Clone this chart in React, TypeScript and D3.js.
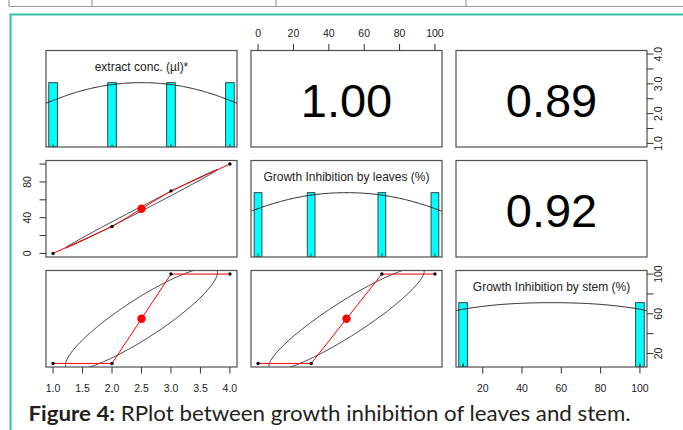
import React from "react";
import * as d3 from "d3";

// variable labels shown on the diagonal
const varNames = ["extract conc. (µl)*", "Growth Inhibition by leaves (%)", "Growth Inhibition by stem (%)"];
const extractConc = [1, 2, 3, 4];
const leavesInhibition = [0, 30, 70, 100];
const stemInhibition = [10, 10, 100, 100];

// axis ticks
const extractTicks = [1, 1.5, 2, 2.5, 3, 3.5, 4];
const leavesTicks = [0, 20, 40, 60, 80, 100];
const stemTicks = [20, 40, 60, 80, 100];

const W = 683;
const H = 430;
const colX = [46, 251, 456];
const rowY = [50.5, 160.5, 270.5];
const pw = 191;
const ph = 96.5;
const tickFont = "Liberation Sans, Arial, sans-serif";

const pearson = (x: number[], y: number[]) => {
  const mx = d3.mean(x)!, my = d3.mean(y)!;
  let sxy = 0, sxx = 0, syy = 0;
  x.forEach((v, i) => {
    sxy += (v - mx) * (y[i] - my);
    sxx += (v - mx) ** 2;
    syy += (y[i] - my) ** 2;
  });
  return sxy / Math.sqrt(sxx * syy);
};

// plain lowess (one pass, tricube weights, local linear fit)
const lowess = (x: number[], y: number[], f = 2 / 3) => {
  const n = x.length;
  const ns = Math.max(Math.min(Math.round(f * n), n), 2);
  const order = d3.range(n).sort((a, b) => x[a] - x[b]);
  return order.map((i) => {
    const xi = x[i];
    const dists = x.map((v) => Math.abs(v - xi)).sort((a, b) => a - b);
    const h = dists[ns - 1];
    const w = x.map((v) => {
      const r = Math.abs(v - xi);
      if (r > 0.999 * h) return 0;
      if (r <= 0.001 * h) return 1;
      return (1 - (r / h) ** 3) ** 3;
    });
    const sw = d3.sum(w);
    const a = d3.sum(x, (v, k) => w[k] * v) / sw;
    const b = d3.sum(y, (v, k) => w[k] * v) / sw;
    const c = d3.sum(x, (v, k) => w[k] * (v - a) ** 2);
    let fit = b;
    if (c > 1e-9) {
      const slope = d3.sum(x, (v, k) => w[k] * (v - a) * (y[k] - b)) / c;
      fit = b + slope * (xi - a);
    }
    return [xi, fit] as [number, number];
  });
};

const bwNrd = (v: number[]) => {
  const s = [...v].sort((a, b) => a - b);
  const iqr = (d3.quantileSorted(s, 0.75)! - d3.quantileSorted(s, 0.25)!) / 1.34;
  return 1.06 * Math.min(d3.deviation(v)!, iqr) * Math.pow(v.length, -0.2);
};

const density = (v: number[]) => {
  const bw = bwNrd(v) * 1.2;
  const lo = d3.min(v)! - 3 * bw, hi = d3.max(v)! + 3 * bw;
  const grid = d3.range(512).map((k) => lo + ((hi - lo) * k) / 511);
  const dens = grid.map((g) => d3.sum(v, (xv) => Math.exp(-0.5 * ((g - xv) / bw) ** 2)));
  const mx = d3.max(dens)!;
  return grid.map((g, k) => [g, dens[k] / mx] as [number, number]);
};

const App = () => {
  const vars = [extractConc, leavesInhibition, stemInhibition];
  const ticks = [extractTicks, leavesTicks, stemTicks];
  const fmt = [d3.format(".1f"), d3.format("d"), d3.format("d")];

  const ext = vars.map((v) => {
    const [lo, hi] = d3.extent(v) as [number, number];
    const pad = (hi - lo) * 0.04;
    return [lo - pad, hi + pad];
  });
  const sx = vars.map((v, j) => d3.scaleLinear().domain(ext[j]).range([colX[j], colX[j] + pw]));
  const sy = vars.map((v, i) => d3.scaleLinear().domain(ext[i]).range([rowY[i] + ph, rowY[i]]));

  const panels: React.ReactNode[] = [];

  for (let i = 0; i < 3; i++) {
    for (let j = 0; j < 3; j++) {
      const x0 = colX[j], y0 = rowY[i];
      const clipId = `clip-${i}-${j}`;
      const content: React.ReactNode[] = [];

      if (i === j) {
        // histogram + density
        const v = vars[i];
        const hy = d3.scaleLinear().domain([0, 1.5]).range([y0 + ph, y0]);
        const counts = d3.rollup(v, (g) => g.length, (d) => d);
        const breaks = Array.from(counts.keys()).sort((a, b) => a - b);
        const maxC = d3.max(Array.from(counts.values()))!;
        const gap = d3.min(d3.pairs(breaks), ([a, b]) => b - a)!;
        const half = (gap * (breaks.length - 1)) / 41;
        breaks.forEach((b, k) => {
          content.push(
            <rect key={`bar${k}`} x={sx[j](b - half)} y={hy(counts.get(b)! / maxC)}
              width={sx[j](b + half) - sx[j](b - half)} height={hy(0) - hy(counts.get(b)! / maxC)}
              fill="#00ffff" stroke="#333" strokeWidth={0.9} />
          );
        });
        const line = d3.line<[number, number]>().x((d) => sx[j](d[0])).y((d) => hy(d[1]));
        content.push(<path key="dens" d={line(density(v))!} fill="none" stroke="#111" strokeWidth={0.9} />);
        v.forEach((d, k) => {
          content.push(<line key={`rug${k}`} x1={sx[j](d)} x2={sx[j](d)} y1={y0 + ph} y2={y0 + ph - 3.5} stroke="#111" strokeWidth={0.8} />);
        });
        content.push(
          <text key="lbl" x={x0 + pw / 2} y={y0 + 20} textAnchor="middle" fontSize={12}
            fontFamily={tickFont} fill="#222">{varNames[i]}</text>
        );
      } else if (i > j) {
        // scatter with correlation ellipse and lowess
        const xv = vars[j], yv = vars[i];
        const mx = d3.mean(xv)!, my = d3.mean(yv)!;
        const xs = d3.deviation(xv)!, ys = d3.deviation(yv)!;
        const r = pearson(xv, yv);
        const th = Math.sign(r) / Math.sqrt(2);
        const s1 = Math.sqrt(1 + r), s2 = Math.sqrt(1 - r);
        const ell = d3.range(52).map((k) => {
          const a = (k * 2 * Math.PI) / 51;
          const ex = Math.cos(a) * s1 * th - Math.sin(a) * s2 * th;
          const ey = Math.cos(a) * s1 * th + Math.sin(a) * s2 * th;
          return [sx[j](ex * xs + mx), sy[i](ey * ys + my)] as [number, number];
        });
        content.push(<path key="ell" d={d3.line()(ell)!} fill="none" stroke="#222" strokeWidth={0.8} />);
        const lw = lowess(xv, yv).map((d) => [sx[j](d[0]), sy[i](d[1])] as [number, number]);
        content.push(<path key="lw" d={d3.line()(lw)!} fill="none" stroke="#ff0000" strokeWidth={1} />);
        xv.forEach((d, k) => {
          content.push(<circle key={`pt${k}`} cx={sx[j](d)} cy={sy[i](yv[k])} r={1.7} fill="#000" />);
        });
        content.push(<circle key="mean" cx={sx[j](mx)} cy={sy[i](my)} r={4.2} fill="#ff0000" />);
      } else {
        const r = pearson(vars[i], vars[j]);
        content.push(
          <text key="cor" x={x0 + pw / 2} y={y0 + 66.5} textAnchor="middle" fontSize={47}
            fontFamily={tickFont} fill="#000">{d3.format(".2f")(r)}</text>
        );
      }

      panels.push(
        <g key={`p${i}${j}`}>
          <clipPath id={clipId}><rect x={x0} y={y0} width={pw} height={ph} /></clipPath>
          <g clipPath={`url(#${clipId})`}>{content}</g>
          <rect x={x0} y={y0} width={pw} height={ph} fill="none" stroke="#505050" strokeWidth={1.2} />
        </g>
      );
    }
  }

  // axes, R pairs style: alternating sides
  const axes: React.ReactNode[] = [];
  const hAxis = (j: number, side: "top" | "bottom") => {
    const yEdge = side === "top" ? rowY[0] : rowY[2] + ph;
    const dir = side === "top" ? -1 : 1;
    ticks[j].forEach((t, k) => {
      const x = sx[j](t);
      axes.push(<line key={`h${j}${k}`} x1={x} x2={x} y1={yEdge} y2={yEdge + dir * 6.5} stroke="#333" strokeWidth={1} />);
      axes.push(
        <text key={`ht${j}${k}`} x={x} y={side === "top" ? yEdge - 14 : yEdge + 24.5} textAnchor="middle"
          fontSize={10.5} fontFamily={tickFont} fill="#222">{fmt[j](t)}</text>
      );
    });
  };
  const vAxis = (i: number, side: "left" | "right") => {
    const xEdge = side === "left" ? colX[0] : colX[2] + pw;
    const dir = side === "left" ? -1 : 1;
    ticks[i].forEach((t, k) => {
      const y = sy[i](t);
      axes.push(<line key={`v${i}${k}`} x1={xEdge} x2={xEdge + dir * 6.5} y1={y} y2={y} stroke="#333" strokeWidth={1} />);
      if (k % 2 === 0) {
        const bx = xEdge + dir * 15;
        axes.push(
          <text key={`vt${i}${k}`} x={bx} y={y} transform={`rotate(-90 ${bx} ${y})`} textAnchor="middle"
            fontSize={10.5} fontFamily={tickFont} fill="#222">{fmt[i](t)}</text>
        );
      }
    });
  };
  hAxis(0, "bottom");
  hAxis(1, "top");
  hAxis(2, "bottom");
  vAxis(0, "right");
  vAxis(1, "left");
  vAxis(2, "right");

  return (
    <svg width={W} height={H} style={{ position: "absolute", left: 0, top: 0, background: "#fff" }}>
      {/* bit of the table above the figure */}
      <g stroke="#9a9a9a" strokeWidth={1.2}>
        <line x1={9} x2={W} y1={6.5} y2={6.5} />
        {[9, 92, 276, 466].map((x) => (
          <line key={x} x1={x} x2={x} y1={0} y2={6.5} />
        ))}
      </g>
      {/* teal frame */}
      <path d={`M${W + 2},14.5 H10.5 V${H + 2}`} fill="none" stroke="#35c2a8" strokeWidth={2} />
      {panels}
      {axes}
      <text x={28.5} y={421} fontFamily="Lato, sans-serif" fontSize={21.5} fill="#231f20"
        textLength={602} lengthAdjust="spacingAndGlyphs">
        <tspan fontWeight="bold">Figure 4:</tspan>
        <tspan> RPlot between growth inhibition of leaves and stem.</tspan>
      </text>
    </svg>
  );
};

export default App;
